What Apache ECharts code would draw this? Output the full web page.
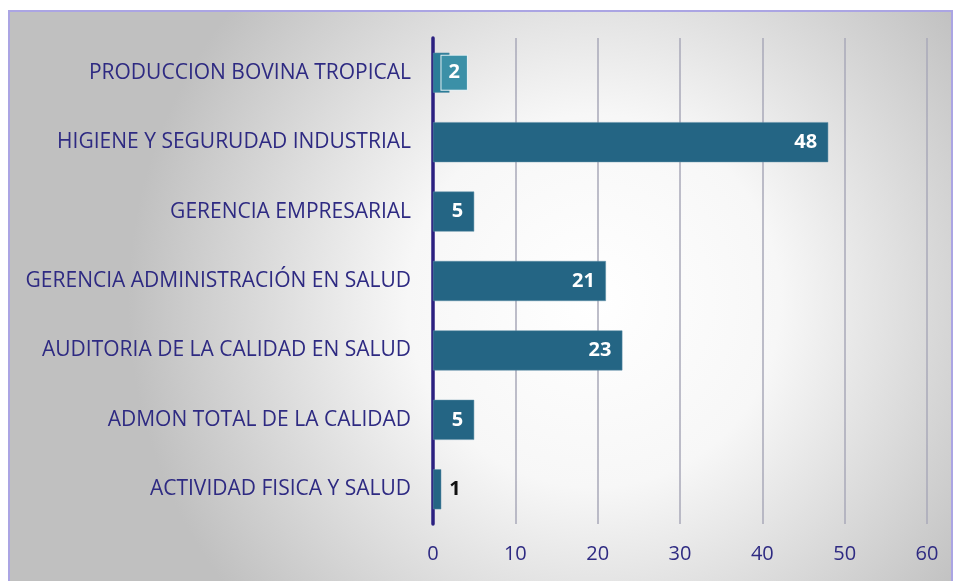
<!DOCTYPE html>
<html>
<head>
<meta charset="utf-8">
<script src="https://cdn.jsdelivr.net/npm/echarts@6/dist/echarts.min.js"></script>
<style>
html,body{margin:0;padding:0;background:#fff;}
#c{width:955px;height:581px;}
</style>
</head>
<body>
<div id="c"></div>
<script>
const categories = [
  "PRODUCCION BOVINA TROPICAL",
  "HIGIENE Y SEGURUDAD INDUSTRIAL",
  "GERENCIA EMPRESARIAL",
  "GERENCIA ADMINISTRACIÓN EN SALUD",
  "AUDITORIA DE LA CALIDAD EN SALUD",
  "ADMON TOTAL DE LA CALIDAD",
  "ACTIVIDAD FISICA Y SALUD"
];
const values = [2, 48, 5, 21, 23, 5, 1];
const xTicks = [0, 10, 20, 30, 40, 50, 60];

const chart = echarts.init(document.getElementById('c'), null, {renderer: 'canvas'});
const labelFont = "Open Sans";
const data = values.map((v, i) => {
  const item = {value: v};
  if (i === 0) {
    item.itemStyle = {color: '#2a7d98'};
    item.label = {position: 'right', distance: -8, color: '#fff', backgroundColor: '#3b90a7',
      borderColor: '#e4f0f3', borderWidth: 1, padding: [8, 7, 6, 7]};
  } else if (v < 3) {
    item.label = {position: 'right', color: '#111', distance: 8};
  }
  return item;
});
chart.setOption({
  animation: false,
  graphic: [{
    type: 'rect', z: -10, silent: true,
    shape: {x: 9, y: 11, width: 943, height: 580},
    style: {
      fill: {type: 'radial', x: 0.62, y: 0.5, r: 0.8,
        colorStops: [{offset: 0, color: '#ffffff'}, {offset: 0.4, color: '#f7f7f7'}, {offset: 1, color: '#c0c0c0'}]},
      stroke: '#aba5e3', lineWidth: 2
    }
  }],
  grid: {left: 433, right: 28, top: 38, bottom: 57, containLabel: false},
  xAxis: {
    type: 'value', min: 0, max: 60, interval: 10,
    axisLine: {show: false}, axisTick: {show: false},
    splitLine: {show: true, lineStyle: {color: '#a9a9b9', width: 1.5}},
    axisLabel: {color: '#2e2a82', fontFamily: labelFont, fontSize: 20, margin: 20,
      formatter: v => xTicks.includes(v) ? String(v) : ''}
  },
  yAxis: {
    type: 'category', data: categories, inverse: true,
    axisLine: {show: true, lineStyle: {color: '#2b2080', width: 3.5}},
    axisTick: {show: false},
    axisLabel: {color: '#2e2a82', fontFamily: labelFont, fontSize: 21, margin: 22}
  },
  series: [{
    type: 'bar', data: data, barWidth: 40,
    itemStyle: {color: '#246584', borderColor: '#5c8ea6', borderWidth: 0.5},
    label: {show: true, position: 'insideRight', distance: 11, color: '#ffffff',
      fontFamily: labelFont, fontWeight: 'bold', fontSize: 20}
  }]
});
</script>
</body>
</html>
